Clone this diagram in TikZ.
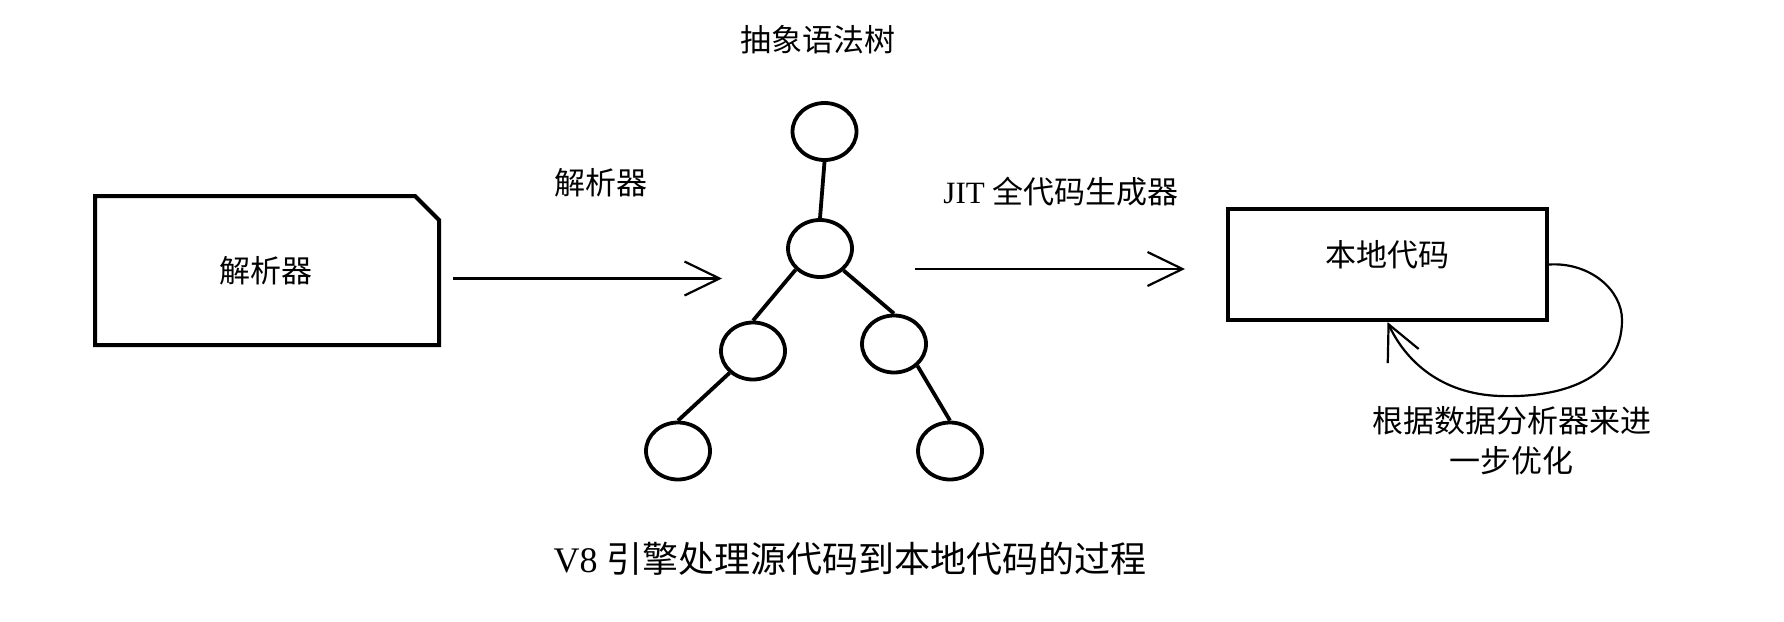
\documentclass[tikz,border=0pt]{standalone}
\usepackage{fontspec}
\setmainfont{Liberation Serif}
\newfontfamily\cjk{Noto Sans CJK SC}
\usetikzlibrary{arrows.meta,shapes.geometric}
\tikzset{
  boxline/.style={draw, line width=4pt, line join=miter},
  treenode/.style={ellipse, draw, line width=3.8pt, minimum width=64pt, minimum height=57pt, inner sep=0pt},
  treeedge/.style={line width=3.8pt},
  flow/.style={line width=2.2pt, -{Straight Barb[length=35pt,width=34pt,line width=2.2pt]}},
  lbl/.style={font=\fontsize{31pt}{40pt}\selectfont, inner sep=0pt},
  captext/.style={font=\fontsize{36pt}{42pt}\selectfont, inner sep=0pt},
}
\begin{document}
\begin{tikzpicture}[x=1pt,y=-1pt]
\useasboundingbox (0,0) rectangle (1784,621);

% left box (chamfered)
\node[minimum width=344pt, minimum height=149pt, inner sep=0pt, outer sep=0pt] (parser) at (267,270.5) {};
\draw[boxline] (parser.north west) -- ([xshift=-24pt]parser.north east) -- ([yshift=-24pt]parser.north east) -- (parser.south east) -- (parser.south west) -- cycle;
\node[lbl] (parsertxt) at (266,271) {\cjk 解析器};

% arrow 1
\coordinate (a1s) at (453,278.5);
\coordinate (a1e) at (722,278.5);
\draw[flow] (a1s) -- (a1e);
\node[lbl] (a1lbl) at (601,183) {\cjk 解析器};

% tree
\node[lbl] (asttitle) at (818,40) {\cjk 抽象语法树};
\node[treenode] (root) at (824.5,131.5) {};
\node[treenode] (mid) at (820,248.5) {};
\node[treenode] (left) at (753,351) {};
\node[treenode] (right) at (894,344) {};
\node[treenode] (lowL) at (678,451) {};
\node[treenode] (lowR) at (950,451) {};
\draw[treeedge] (root.south) -- (mid.north);
\draw[treeedge] (mid.221) -- (left.north);
\draw[treeedge] (mid.317) -- (right.north);
\draw[treeedge] (left.223) -- (lowL.north);
\draw[treeedge] (right.317) -- (lowR.north);

% arrow 2
\coordinate (a2s) at (915,269);
\coordinate (a2e) at (1185,269);
\draw[flow] (a2s) -- (a2e);
\node[lbl] (a2lbl) at (1061,192) {JIT {\cjk 全代码生成器}};

% native code box
\node[boxline, minimum width=319pt, minimum height=111pt, inner sep=0pt] (natcode) at (1387.5,264.5) {};
\node[lbl] (nattxt) at (1387,255) {\cjk 本地代码};

% loop
\draw[flow] (natcode.east) .. controls (1590,262) and (1622,290) .. (1622,320)
  .. controls (1622,380) and (1560,398) .. (1500,396)
  .. controls (1440,394) and (1405,360) .. (natcode.south);
\node[lbl, align=center, anchor=north west] (looplbl) at (1372,406) {\cjk 根据数据分析器来进\\\cjk 一步优化};

% caption
\node[captext] (caption) at (850,559) {V8 {\cjk 引擎处理源代码到本地代码的过程}};
\end{tikzpicture}
\end{document}
